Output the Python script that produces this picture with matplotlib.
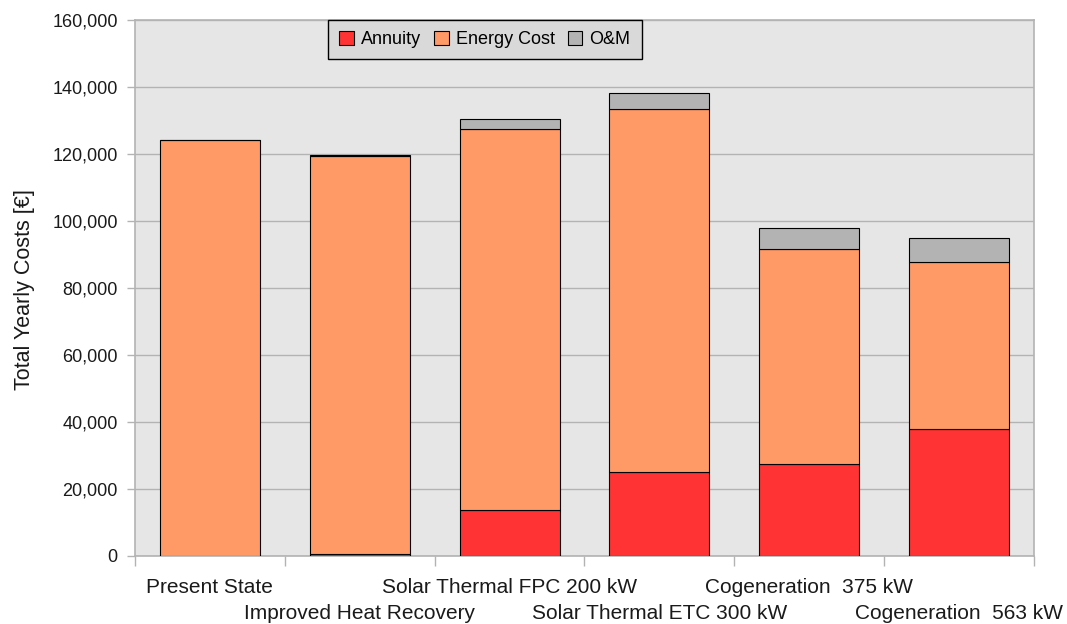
import numpy as np
import matplotlib
matplotlib.use("Agg")
import matplotlib.pyplot as plt
from matplotlib.ticker import FuncFormatter
from matplotlib.transforms import offset_copy

plt.rcParams['font.family'] = ['Liberation Sans', 'DejaVu Sans']

categories = ["Present State", "Improved Heat Recovery", "Solar Thermal FPC 200 kW",
              "Solar Thermal ETC 300 kW", "Cogeneration  375 kW", "Cogeneration  563 kW"]
annuity = [0, 600, 13700, 25100, 27500, 37900]
energy_cost = [124200, 118800, 113800, 108300, 64100, 49900]
om = [0, 300, 2900, 4800, 6300, 7100]

c_ann = "#ff3333"
c_energy = "#ff9966"
c_om = "#b3b3b3"
grid_c = "#b3b3b3"
txt_c = "#1a1a1a"

fig = plt.figure(figsize=(10.67, 6.24), dpi=100)
ax = fig.add_axes([135/1067, 1 - 556/624, 899/1067, 536/624])
ax.set_facecolor("#e6e6e6")

x = np.arange(len(categories))
w = 0.667
ann = np.array(annuity)
en = np.array(energy_cost)
ax.bar(x, ann, w, color=c_ann, edgecolor="black", linewidth=0.8, label="Annuity", zorder=3)
ax.bar(x, en, w, bottom=ann, color=c_energy, edgecolor="black", linewidth=0.8, label="Energy Cost", zorder=3)
ax.bar(x, om, w, bottom=ann + en, color=c_om, edgecolor="black", linewidth=0.8, label="O&M", zorder=3)

ax.set_xlim(-0.5, len(categories) - 0.5)
ax.set_ylim(0, 160000)
ax.set_yticks(np.arange(0, 160001, 20000))
ax.yaxis.set_major_formatter(FuncFormatter(lambda v, p: f"{int(v):,}"))
ax.yaxis.grid(True, color=grid_c, linewidth=1, zorder=0)
ax.tick_params(axis='y', labelsize=13, length=6, color=grid_c, width=1, pad=6.5, labelcolor=txt_c)

# tick marks on the category boundaries, names staggered on two rows
ax.set_xticks(np.arange(-0.5, len(categories), 1.0))
ax.set_xticklabels([])
ax.tick_params(axis='x', length=7.5, color=grid_c, width=1)
xtrans = ax.get_xaxis_transform()
for i, c in enumerate(categories):
    drop = 37 if i % 2 == 0 else 63
    ax.text(x[i], 0, c, fontsize=15, color=txt_c, ha="center", va="baseline",
            transform=offset_copy(xtrans, fig=fig, y=-drop, units="dots"))

for s in ax.spines.values():
    s.set_color(grid_c)
    s.set_linewidth(1.2)

ax.set_ylabel("Total Yearly Costs [€]", fontsize=15.5, color=txt_c)
ax.yaxis.set_label_coords(-0.111, 0.497)

leg = ax.legend(loc="upper left", bbox_to_anchor=(0.215, 1.0), borderaxespad=0, ncol=3,
                fontsize=13, frameon=True, fancybox=False, framealpha=1,
                handlelength=0.78, handleheight=0.78, handletextpad=0.4, columnspacing=0.75,
                borderpad=0.62)
leg.get_frame().set_facecolor("#d9d9d9")
leg.get_frame().set_edgecolor("black")
leg.get_frame().set_linewidth(1)
leg.set_zorder(5)

fig.savefig("out.png", dpi=100)
